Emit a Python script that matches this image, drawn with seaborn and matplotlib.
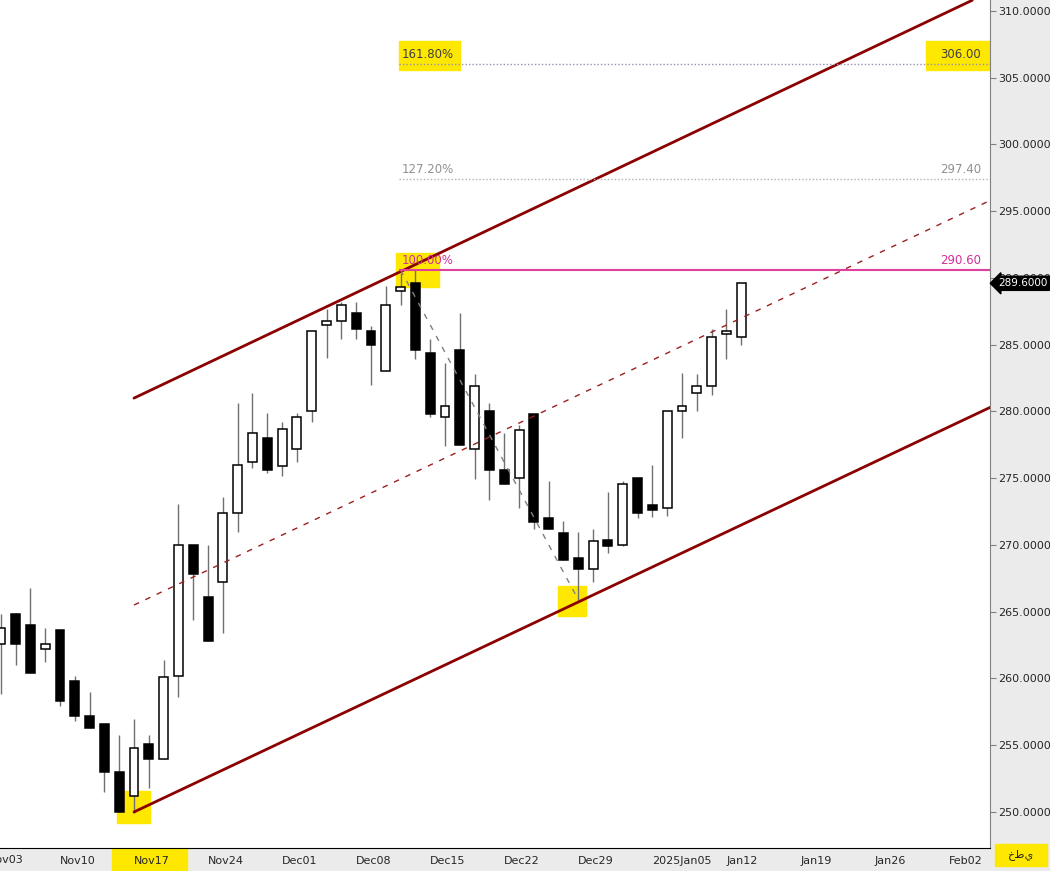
import numpy as np
import pandas as pd
import matplotlib
matplotlib.use("Agg")
import matplotlib.pyplot as plt
import matplotlib.transforms as mtransforms
import seaborn as sns

# trading-day index, 0 = Nov17
day = list(range(-9, 42))
opens = [262.6, 264.8, 264.0, 262.2, 263.6, 259.8, 257.2, 256.6, 253.0, 251.2,
         255.1, 254.0, 260.2, 270.0, 266.1, 267.2, 272.4, 276.2, 278.0, 275.9,
         277.2, 280.0, 286.5, 286.8, 287.4, 286.0, 283.0, 289.0, 289.6, 284.4,
         279.6, 284.6, 277.2, 280.0, 275.6, 275.0, 279.8, 272.0, 270.9, 269.0,
         268.2, 270.35, 270.0, 275.0, 273.0, 272.8, 280.0, 281.35, 281.9, 285.8, 285.6]
closes = [263.8, 262.6, 260.4, 262.55, 258.3, 257.2, 256.3, 253.0, 250.0, 254.8,
          254.0, 260.1, 270.0, 267.8, 262.8, 272.4, 276.0, 278.4, 275.6, 278.7,
          279.6, 286.0, 286.8, 288.0, 286.2, 285.0, 288.0, 289.35, 284.6, 279.8,
          280.4, 277.5, 281.9, 275.6, 274.6, 278.6, 271.75, 271.2, 268.9, 268.2,
          270.3, 269.95, 274.55, 272.4, 272.6, 280.0, 280.4, 281.9, 285.55, 286.0, 289.6]
highs = [264.8, 264.9, 266.8, 263.8, 263.6, 260.2, 259.0, 256.6, 255.8, 257.0,
         255.8, 261.4, 273.1, 270.0, 270.0, 273.6, 280.6, 281.4, 279.9, 279.2,
         279.9, 286.0, 287.7, 288.2, 288.2, 286.4, 289.4, 290.4, 290.6, 285.4,
         283.6, 287.4, 282.8, 280.6, 278.4, 279.0, 279.8, 274.8, 271.8, 270.95,
         271.2, 273.95, 274.8, 275.0, 276.0, 280.0, 282.9, 282.8, 286.2, 287.7, 289.6]
lows = [258.8, 261.0, 260.4, 261.2, 257.9, 256.8, 256.3, 251.5, 250.0, 249.95,
        251.8, 253.95, 258.6, 264.4, 262.8, 263.4, 271.0, 275.8, 275.4, 275.2,
        276.2, 279.2, 284.0, 285.4, 285.4, 282.0, 283.0, 288.0, 283.9, 279.6,
        277.4, 277.5, 274.95, 273.4, 274.6, 272.75, 271.2, 271.2, 268.9, 265.9,
        267.2, 269.4, 269.95, 272.0, 272.1, 272.2, 278.0, 280.0, 281.2, 283.9, 285.0]

tick_pos = [-10, -5, 0, 5, 10, 15, 20, 25, 30, 35, 40, 45, 50, 55]
tick_labels = ["Nov03", "Nov10", "Nov17", "Nov24", "Dec01", "Dec08", "Dec15",
               "Dec22", "Dec29", "2025Jan05", "Jan12", "Jan19", "Jan26", "Feb02"]

# channel lines (start/end day, start/end price)
upper_ch = ([0, 56.6], [281.0, 310.8])
lower_ch = ([0, 57.8], [250.0, 280.3])
mid_ch = ([0, 57.8], [265.5, 295.8])
fib_levels = [306.0, 297.4, 290.6]
fib_names = ["161.80%", "127.20%", "100.00%"]
fib_colors = ["#9a8fb0", "#b0b0b0", "#e0409a"]
fib_text = ["#404040", "#909090", "#d0309a"]
last_price = 289.6

df = pd.DataFrame({"day": day, "open": opens, "close": closes, "high": highs, "low": lows})

sns.set_style("white")
fig = plt.figure(figsize=(10.5, 8.71), dpi=100, facecolor="#ebebeb")
ax = fig.add_axes([0, 23 / 871, 990 / 1050, 848 / 871])
ax.set_facecolor("white")

# wicks
ax.vlines(df["day"], df["low"], df["high"], color="#707070", lw=1, zorder=2)
# bodies
up = df["close"] >= df["open"]
body_lo = np.minimum(df["open"], df["close"])
body_h = np.maximum((df["close"] - df["open"]).abs(), 0.1)
ax.bar(df["day"][up], body_h[up], bottom=body_lo[up], width=0.6,
       color="white", edgecolor="black", lw=1.1, zorder=3)
ax.bar(df["day"][~up], body_h[~up], bottom=body_lo[~up], width=0.6,
       color="black", edgecolor="black", lw=1.1, zorder=3)

# channel
sns.lineplot(x=upper_ch[0], y=upper_ch[1], ax=ax, color="#8b0000", lw=2, zorder=4)
sns.lineplot(x=lower_ch[0], y=lower_ch[1], ax=ax, color="#8b0000", lw=2, zorder=4)
ax.plot(mid_ch[0], mid_ch[1], color="#9b2020", lw=1, ls=(0, (4, 5)), zorder=4)

# fib retracement
ax.plot([18, 30], [290.6, 265.9], color="#808080", lw=1, ls=(0, (4, 5)), zorder=4)
for lvl, name, c, tc in zip(fib_levels, fib_names, fib_colors, fib_text):
    if name == "100.00%":
        ax.hlines(lvl, 17.9, 57.8, color=c, lw=1.5, zorder=4)
    else:
        ax.hlines(lvl, 17.9, 57.8, color=c, lw=1, ls=(0, (1, 1.5)), zorder=4)
    ax.text(18.1, lvl + 0.25, name, color=tc, fontsize=8.5, va="bottom", zorder=5)
    ax.text(57.2, lvl + 0.25, f"{lvl:.2f}", color=tc, fontsize=8.5,
            va="bottom", ha="right", zorder=5)

# yellow highlights
yl = "#ffe800"
for x0, y0, w, h in [(17.9, 305.55, 4.1, 2.2), (53.5, 305.55, 4.3, 2.2),
                     (17.7, 289.3, 2.9, 2.6), (28.6, 264.7, 1.9, 2.2),
                     (-1.15, 249.2, 2.25, 2.4)]:
    ax.add_patch(plt.Rectangle((x0, y0), w, h, color=yl, zorder=1))

ax.set_xticks(tick_pos)
ax.set_xticklabels(tick_labels, fontsize=8, ha="left")
ax.set_xlim(-9.05, 57.8)
ax.set_ylim(247.3, 310.82)
ax.yaxis.tick_right()
ax.set_yticks(np.arange(250, 311, 5))
ax.set_yticklabels([f"{v:.4f}" for v in np.arange(250, 311, 5)], fontsize=8)
ax.tick_params(axis="both", length=4, color="#808080", direction="out", pad=2)
for s in ["top", "left"]:
    ax.spines[s].set_visible(False)
ax.spines["right"].set_color("#808080")
ax.spines["bottom"].set_color("black")

# first date label sits just outside the view, partly visible
trans = mtransforms.blended_transform_factory(ax.transData, ax.transAxes)
ax.text(tick_pos[0] + 0.15, -0.008, tick_labels[0], transform=trans, fontsize=8,
        ha="left", va="top", clip_on=False)

# x label highlight and last-price box
fig.patches.append(plt.Rectangle((112 / 1050, 0), 75 / 1050, 31 / 871, color=yl,
                                 transform=fig.transFigure, zorder=-1))
fig.patches.append(plt.Rectangle((995 / 1050, 5 / 871), 52 / 1050, 22 / 871, color=yl,
                                 transform=fig.transFigure, zorder=-1))
fig.text(1020 / 1050, 16 / 871, "خطي", fontsize=8, ha="center", va="center")
ax.text(1.008, (last_price - 247.3) / (310.82 - 247.3), f"{last_price:.4f}",
        transform=ax.transAxes, color="white", fontsize=7.5,
        va="center", ha="left", zorder=6,
        bbox=dict(boxstyle="larrow,pad=0.2", fc="black", ec="black"))

fig.savefig("out.png", dpi=100, facecolor=fig.get_facecolor())
